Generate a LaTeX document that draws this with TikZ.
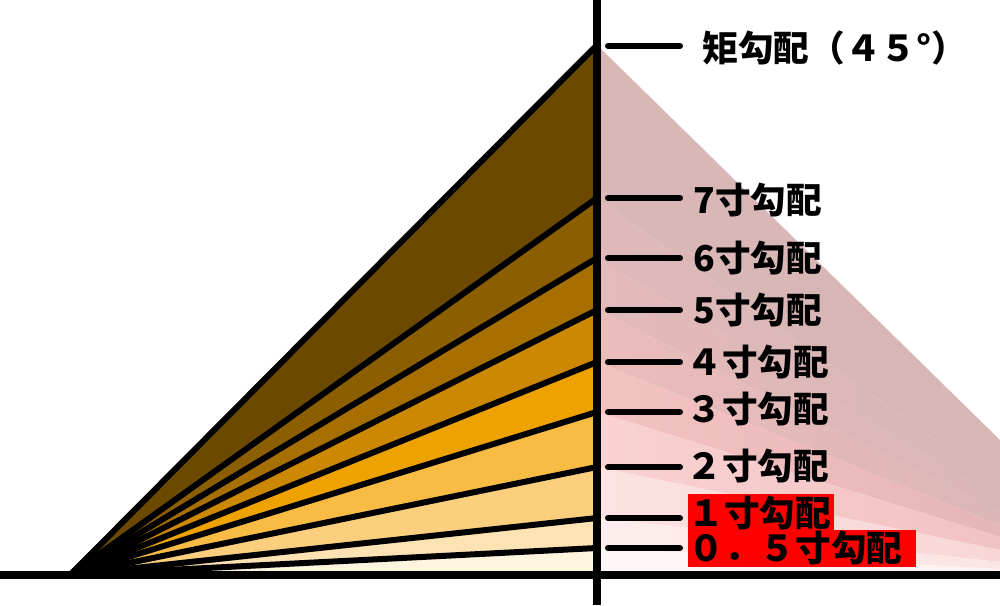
\documentclass[tikz,border=0pt]{standalone}
\usepackage{fontspec}
\newfontfamily\jp{Noto Sans CJK JP}
\definecolor{b0}{HTML}{6B4A00}
\definecolor{b1}{HTML}{8B5E00}
\definecolor{b2}{HTML}{A66F00}
\definecolor{b3}{HTML}{CC8800}
\definecolor{b4}{HTML}{EDA200}
\definecolor{b5}{HTML}{F8BC45}
\definecolor{b6}{HTML}{FBCF7E}
\definecolor{b7}{HTML}{FDE3B4}
\definecolor{b8}{HTML}{FFF4DE}
\definecolor{pl0}{HTML}{DAB7B7}\definecolor{pr0}{HTML}{D8B6B6}
\definecolor{pl1}{HTML}{DFB9B9}\definecolor{pr1}{HTML}{D8B6B6}
\definecolor{pl2}{HTML}{E4BABA}\definecolor{pr2}{HTML}{D9B6B6}
\definecolor{pl3}{HTML}{EBBCBC}\definecolor{pr3}{HTML}{DBB6B6}
\definecolor{pl4}{HTML}{F5C2C2}\definecolor{pr4}{HTML}{E6B5B5}
\definecolor{pl5}{HTML}{F9D2D2}\definecolor{pr5}{HTML}{F2C2C2}
\definecolor{pl6}{HTML}{FCE2E2}\definecolor{pr6}{HTML}{F8D6D6}
\definecolor{pl7}{HTML}{FDEDED}\definecolor{pr7}{HTML}{FBE5E5}
\definecolor{pl8}{HTML}{FFF7F7}\definecolor{pr8}{HTML}{FDF0F0}
\definecolor{boxred}{HTML}{FF0000}
\begin{document}
\begin{tikzpicture}[x=0.02cm,y=-0.02cm,
  fanline/.style={line width=0.12cm, line join=round},
  axisline/.style={line width=0.16cm},
  tickline/.style={line width=0.12cm, line cap=round},
  lbl/.style={anchor=west, inner sep=0pt, font=\jp\bfseries\fontsize{20.3pt}{24pt}\selectfont}]
\useasboundingbox (0,0) rectangle (1000,605);
\fill[white] (0,0) rectangle (1000,605);
% key points
\coordinate (O) at (70,575);
\foreach \i/\y in {0/45,1/198,2/258,3/310,4/362,5/412,6/467,7/518,8/548,9/575}
  \coordinate (P\i) at (597,\y);
\foreach \i/\y in {0/440,1/486,2/500,3/513,4/525,5/537,6/550,7/562,8/569,9/575}
  \coordinate (Q\i) at (1000,\y);
% pink mirrored bands
\foreach \i/\j in {0/1,1/2,2/3,3/4,4/5,5/6,6/7,7/8,8/9}
  \shade[left color=pl\i, right color=pr\i] (P\i) -- (Q\i) -- (Q\j) -- (P\j) -- cycle;
% fan bands
\foreach \i/\j in {0/1,1/2,2/3,3/4,4/5,5/6,6/7,7/8,8/9}
  \fill[b\i] (O) -- (P\i) -- (P\j) -- cycle;
% fan lines
\foreach \i in {0,...,8}
  \draw[fanline] (O) -- (P\i);
% axes
\coordinate (VT) at (597,0);
\coordinate (VB) at (597,605);
\coordinate (HL) at (0,575);
\coordinate (HR) at (1000,575);
\draw[axisline] (HL) -- (HR);
\draw[axisline] (VT) -- (VB);
% ticks
\foreach \i/\y in {0/46,1/198,2/258,3/310,4/362,5/412,6/467,7/518,8/548}{
  \coordinate (T\i) at (608,\y);
  \coordinate (U\i) at (680,\y);
  \draw[tickline] (T\i) -- (U\i);
}
% red highlight boxes
\fill[boxred] (688,494) rectangle (834,531);
\fill[boxred] (688,530) rectangle (916,567);
% labels
\node[lbl] (L0) at (702,48) {矩勾配（４５°）};
\node[lbl] (L1) at (693,200) {7寸勾配};
\node[lbl] (L2) at (693,258) {6寸勾配};
\node[lbl] (L3) at (693,310) {5寸勾配};
\node[lbl] (L4) at (686,362) {４寸勾配};
\node[lbl] (L5) at (686,409) {３寸勾配};
\node[lbl] (L6) at (686,466) {２寸勾配};
\node[lbl] (L7) at (688,513) {１寸勾配};
\node[lbl] (L8) at (688,548) {０．５寸勾配};
\end{tikzpicture}
\end{document}
